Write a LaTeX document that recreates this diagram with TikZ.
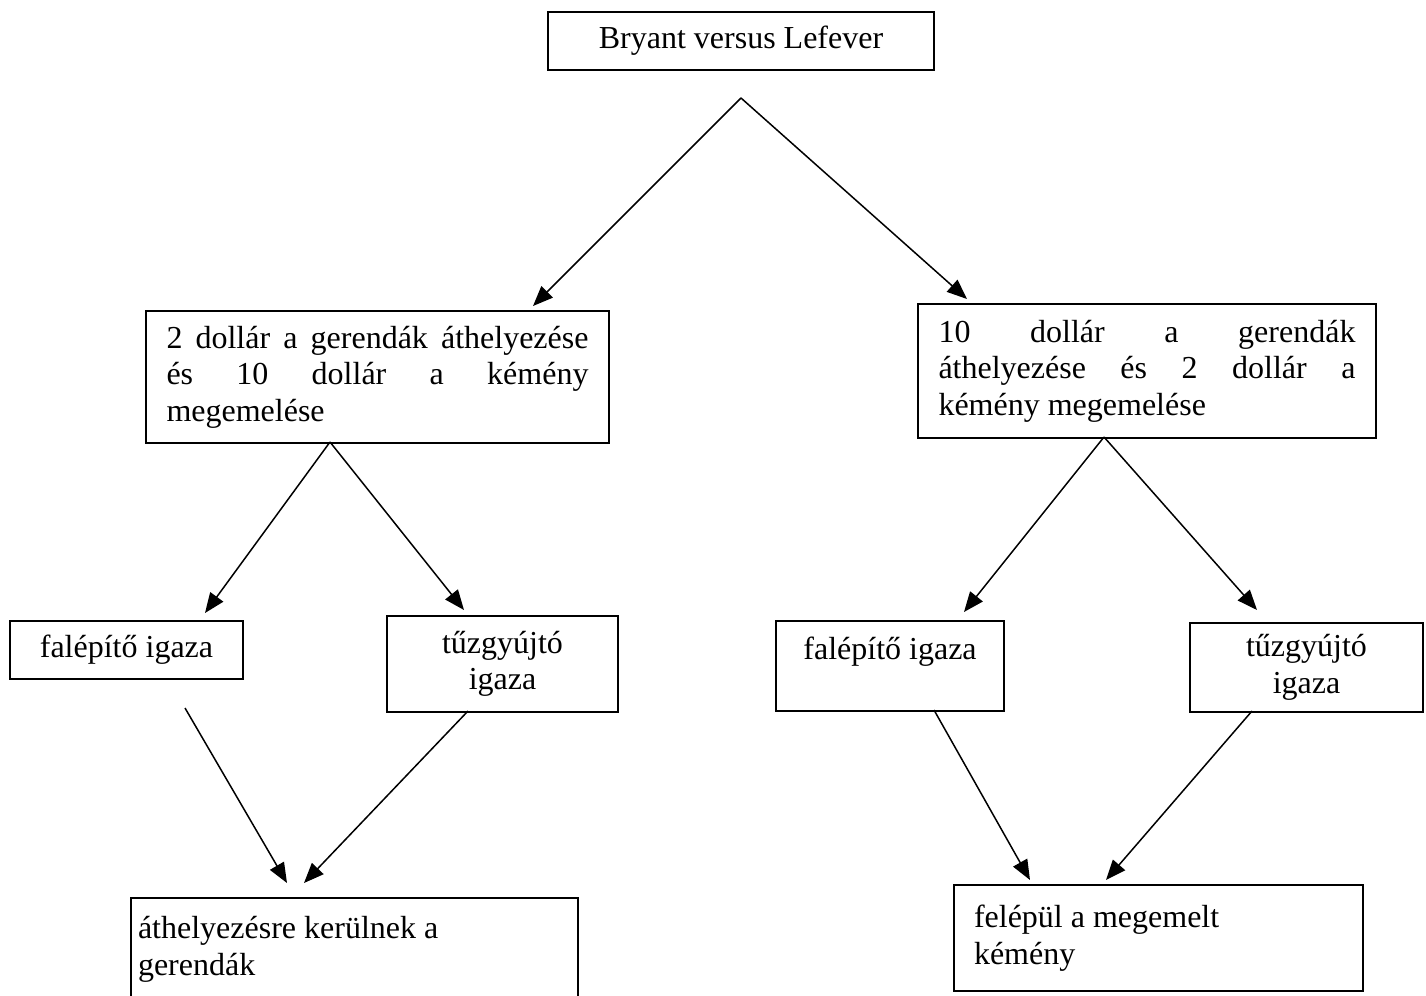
\documentclass[tikz,border=0pt]{standalone}
\usepackage{fontspec}
\setmainfont{Liberation Serif}
\usetikzlibrary{arrows.meta}
\newcommand\jline[2]{\makebox[#1][s]{\spaceskip=0pt\xspaceskip=0pt\relax #2}}
\begin{document}
\begin{tikzpicture}[x=0.5pt,y=-0.5pt,
  box/.style={draw,line width=1pt,inner ysep=0pt,anchor=north west,font=\fontsize{16}{18.25}\selectfont},
  arr/.style={line width=0.75pt,-{Triangle[length=10pt,width=8pt]}}]
\clip (0,0) rectangle (1426,996);
\fill[white] (0,0) rectangle (1426,996);
% boxes
\node[box,inner xsep=0pt,minimum width=193pt,minimum height=29pt,align=center] (top) at (547,11) {Bryant versus Lefever};
\node[box,inner xsep=10.25pt,text width=211pt,minimum height=66pt,align=flush left] (mL) at (145,310)
 {\jline{211pt}{2 dollár a gerendák áthelyezése}\\\jline{211pt}{és 10 dollár a kémény}\\megemelése};
\node[box,inner xsep=10.25pt,text width=208.5pt,minimum height=67pt,align=flush left] (mR) at (917,303)
 {\jline{208.5pt}{10 dollár a gerendák}\\\jline{208.5pt}{áthelyezése és 2 dollár a}\\kémény megemelése};
\node[box,inner xsep=0pt,minimum width=116.5pt,minimum height=29pt,align=flush center] (fL) at (9,620) {falépítő igaza};
\node[box,inner xsep=0pt,minimum width=115.5pt,minimum height=48pt,align=flush center] (tL) at (386,615) {tűzgyújtó\\igaza};
\node[box,inner xsep=0pt,minimum width=114pt,minimum height=45pt,align=flush center] (fR) at (775,620) {falépítő igaza\\\mbox{}};
\node[box,inner xsep=0pt,minimum width=116.5pt,minimum height=44.5pt,align=flush center] (tR) at (1189,622) {tűzgyújtó\\igaza};
\node[box,inner xsep=3.5pt,text width=216.5pt,minimum height=51.5pt,align=flush left] (bL) at (130,897) {áthelyezésre kerülnek a\\gerendák};
\node[box,inner xsep=10pt,text width=184.5pt,minimum height=53pt,align=flush left] (bR) at (953,884) {felépül a megemelt\\kémény};
% connector end points
\coordinate (t0) at (741,98);
\coordinate (a1) at (533,306);
\coordinate (a2) at (967,299);
\coordinate (l0) at (330,442);
\coordinate (l1) at (205,613);
\coordinate (l2) at (464,610);
\coordinate (r0) at (1104,437);
\coordinate (r1) at (964,612);
\coordinate (r2) at (1257,610);
\coordinate (p1) at (185,708);
\coordinate (p2) at (468,711);
\coordinate (q1) at (287,883);
\coordinate (q2) at (304,883);
\coordinate (p3) at (934,710);
\coordinate (p4) at (1252,711);
\coordinate (q3) at (1030,880);
\coordinate (q4) at (1106,880);
% connectors
\draw[arr] (t0) -- (a1);
\draw[arr] (t0) -- (a2);
\draw[arr] (l0) -- (l1);
\draw[arr] (l0) -- (l2);
\draw[arr] (r0) -- (r1);
\draw[arr] (r0) -- (r2);
\draw[arr] (p1) -- (q1);
\draw[arr] (p2) -- (q2);
\draw[arr] (p3) -- (q3);
\draw[arr] (p4) -- (q4);
\end{tikzpicture}
\end{document}
